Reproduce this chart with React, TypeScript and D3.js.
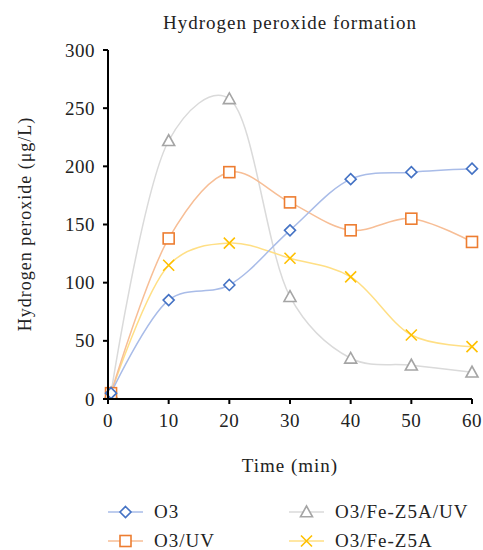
import React from "react";
import * as d3 from "d3";

const times = [0.5, 10, 20, 30, 40, 50, 60];
const seriesNames = ["O3", "O3/UV", "O3/Fe-Z5A/UV", "O3/Fe-Z5A"];
const o3 = [5, 85, 98, 145, 189, 195, 198];
const o3uv = [5, 138, 195, 169, 145, 155, 135];
const o3feuv = [5, 222, 258, 88, 35, 29, 23];
const o3fe = [5, 115, 134, 121, 105, 55, 45];
const xTicks = [0, 10, 20, 30, 40, 50, 60];
const yTicks = [0, 50, 100, 150, 200, 250, 300];

const markerColors = ["#4472C4", "#ED7D31", "#A5A5A5", "#FFC000"];
const lineColors = ["#A9BCE8", "#F7BE96", "#DADADA", "#FFDF85"];
const markerTypes = ["diamond", "square", "triangle", "x"];

const FONT = "'Liberation Serif', 'DejaVu Serif', serif";

function Marker({ type, x, y, color }: { type: string; x: number; y: number; color: string }) {
  const sw = 1.6;
  if (type === "diamond") {
    const r = 5.5;
    return <path d={`M${x},${y - r}L${x + r},${y}L${x},${y + r}L${x - r},${y}Z`} fill="#fff" stroke={color} strokeWidth={sw} />;
  }
  if (type === "square") {
    const r = 5.5;
    return <rect x={x - r} y={y - r} width={2 * r} height={2 * r} fill="#fff" stroke={color} strokeWidth={sw} />;
  }
  if (type === "triangle") {
    const r = 6;
    return <path d={`M${x},${y - r}L${x + r},${y + r * 0.8}L${x - r},${y + r * 0.8}Z`} fill="#fff" stroke={color} strokeWidth={sw} />;
  }
  const r = 5.5;
  return <path d={`M${x - r},${y - r}L${x + r},${y + r}M${x + r},${y - r}L${x - r},${y + r}`} fill="none" stroke={color} strokeWidth={sw} />;
}

export default function App() {
  const W = 483, H = 550;
  const x = d3.scaleLinear().domain([0, 60]).range([108, 472]);
  const y = d3.scaleLinear().domain([0, 300]).range([399, 50]);
  const data = [o3, o3uv, o3feuv, o3fe];
  const line = d3.line<[number, number]>().x(d => x(d[0])).y(d => y(d[1])).curve(d3.curveCatmullRom.alpha(0.3));
  const order = [2, 3, 1, 0];
  const legend = [
    { i: 0, lx: 108, ly: 512 },
    { i: 2, lx: 289, ly: 512 },
    { i: 1, lx: 108, ly: 541 },
    { i: 3, lx: 289, ly: 541 },
  ];
  return (
    <svg width={W} height={H} style={{ position: "absolute", left: 0, top: 0, background: "#fff" }} fontFamily={FONT}>
      <rect x={0} y={0} width={W} height={H} fill="#fff" />
      <text x={290} y={29} textAnchor="middle" fontSize={19} letterSpacing={1} fill="#222">Hydrogen peroxide formation</text>
      {order.map(i => (
        <path key={"l" + i} d={line(times.map((t, k) => [t, data[i][k]]) as [number, number][]) || ""} fill="none" stroke={lineColors[i]} strokeWidth={1.5} />
      ))}
      {order.map(i => (
        <g key={"m" + i}>
          {times.map((t, k) => (
            <Marker key={k} type={markerTypes[i]} x={x(t)} y={y(data[i][k])} color={markerColors[i]} />
          ))}
        </g>
      ))}
      <line x1={x(0)} x2={x(0)} y1={y(300)} y2={y(0)} stroke="#000" strokeWidth={2} />
      <line x1={x(0) - 1} x2={x(60)} y1={y(0)} y2={y(0)} stroke="#000" strokeWidth={2} />
      {yTicks.map(t => (
        <g key={"yt" + t}>
          <line x1={x(0) - 5} x2={x(0)} y1={y(t)} y2={y(t)} stroke="#000" strokeWidth={2} />
          <text x={x(0) - 13} y={y(t)} dy="0.35em" textAnchor="end" fontSize={19} letterSpacing={0.5} fill="#222">{t}</text>
        </g>
      ))}
      {xTicks.map(t => (
        <g key={"xt" + t}>
          <line x1={x(t)} x2={x(t)} y1={y(0)} y2={y(0) + 5} stroke="#000" strokeWidth={2} />
          <text x={x(t)} y={y(0) + 28} textAnchor="middle" fontSize={19} letterSpacing={0.5} fill="#222">{t}</text>
        </g>
      ))}
      <text x={290} y={472} textAnchor="middle" fontSize={19} letterSpacing={1} fill="#222">Time (min)</text>
      <text transform={`translate(31,224) rotate(-90)`} textAnchor="middle" fontSize={18} letterSpacing={1} fill="#222">Hydrogen peroxide (μg/L)</text>
      {legend.map(({ i, lx, ly }) => (
        <g key={"lg" + i}>
          <line x1={lx} x2={lx + 35} y1={ly} y2={ly} stroke={lineColors[i]} strokeWidth={1.5} />
          <Marker type={markerTypes[i]} x={lx + 17.5} y={ly} color={markerColors[i]} />
          <text x={lx + 46} y={ly} dy="0.33em" fontSize={19} letterSpacing={1} fill="#222">{seriesNames[i]}</text>
        </g>
      ))}
    </svg>
  );
}
